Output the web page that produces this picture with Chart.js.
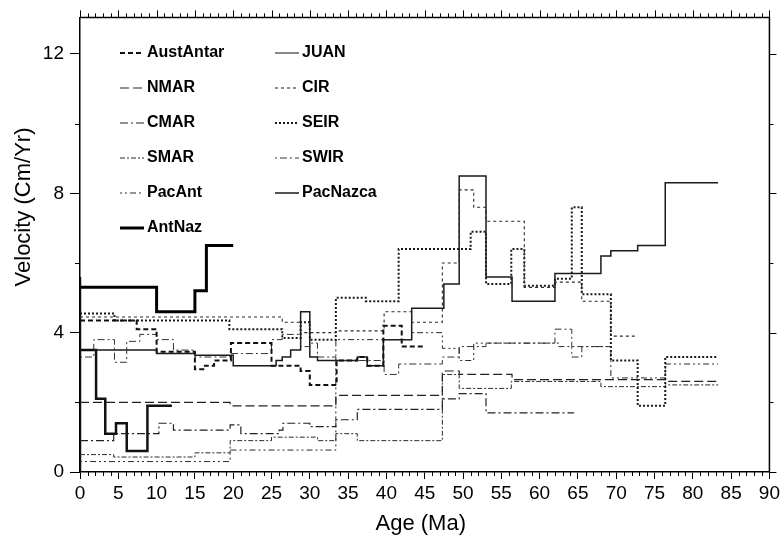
<!DOCTYPE html>
<html>
<head>
<meta charset="utf-8">
<title>Spreading velocity vs age</title>
<script src="https://cdn.jsdelivr.net/npm/chart.js@4.4.1/dist/chart.umd.min.js"></script>
<style>
  html, body { margin: 0; padding: 0; background: #fff; }
  #wrap { width: 783px; height: 541px; }
</style>
</head>
<body>
<div id="wrap"><canvas id="velChart" width="783" height="541"></canvas></div>
<script>
// [age (Ma), velocity (cm/yr)] - each value holds until the next age
var austAntar = [[0,4.35],[7.4,4.1],[10,3.45],[15,2.95],[16.3,3.05],[17.5,3.2],[19.7,3.7],[25,3.05],[28.8,2.9],[30,2.5],[33.5,3.2],[36.2,3.3],[37.5,3.05],[39.6,4.2],[42,3.6],[45,3.6]];
var nmar = [[0,2.0],[19.6,1.9],[33.4,2.2],[47.3,2.9],[49.5,2.8],[56.4,2.65],[68,2.65],[76.4,2.6],[83.3,2.6]];
var cmar = [[0,0.9],[4.4,1.1],[10.3,1.4],[12.2,1.2],[19.6,1.35],[21,1.1],[26,1.2],[26.5,1.4],[30,1.3],[33.4,1.5],[36.2,1.8],[47.3,2.1],[49.5,2.25],[53,1.7],[64.5,1.7]];
var smar = [[0,0.5],[4.4,0.43],[15,0.55],[19.6,0.9],[25,1.0],[31,0.9],[33.4,1.1],[36.2,0.9],[47.3,2.8],[49.5,2.4],[56.3,2.6],[68,2.45],[76.4,2.5],[83.3,2.5]];
var pacAnt = [[0,0.3],[19.6,0.63],[33.4,3.8],[39.7,3.8],[43.3,4.0],[47.3,3.55],[49.5,3.2],[51.4,3.7],[62.5,3.6],[69.3,2.7],[76.4,3.1],[83.3,3.1]];
var antNaz = [[0,5.3],[10,4.6],[15,5.2],[16.5,6.5],[20,6.5]];
var juan = [[0,0],[0,5.6],[0,3.5],[2.1,2.1],[3.3,1.1],[4.7,1.4],[6.1,0.6],[8.8,1.9],[12,1.9]];
var cir = [[0,4.45],[26.4,4.3],[28.8,4.0],[33.4,4.05],[39.7,4.6],[43.3,4.3],[47.3,6.0],[49.5,8.1],[51.4,7.6],[53,7.2],[58,5.3],[62,5.45],[65.5,4.9],[69.3,3.9],[72.6,3.9]];
var seir = [[0,4.55],[4.5,4.35],[19.5,4.1],[26.4,3.85],[28.8,4.3],[30,3.8],[33.4,5.0],[37.3,4.9],[41.6,6.4],[51,6.9],[53,5.4],[56.3,6.4],[58,5.35],[62,5.55],[64.2,7.6],[65.5,5.1],[69.3,3.2],[72.8,1.9],[76.4,3.3],[83.3,3.3]];
var swir = [[0,3.3],[1.8,3.8],[4.5,3.15],[6.1,3.75],[7.8,3.95],[10,3.8],[12.2,3.5],[15,3.3],[19.6,3.4],[25,3.8],[26.4,3.95],[28.8,3.6],[30,3.7],[31,3.3],[33.4,3.2],[39.7,2.8],[41.6,3.1],[47.3,3.3],[49.5,3.6],[53,3.7],[62,4.1],[64.2,3.3],[65.5,3.6],[69.3,3.6]];
var pacNazca = [[0,3.5],[10,3.4],[15,3.35],[20,3.05],[25.6,3.2],[26.4,3.3],[27.5,3.5],[28.8,4.6],[30,3.3],[31,3.2],[36.2,3.3],[37.5,3.05],[39.6,3.8],[43.3,4.7],[47.5,5.4],[49.5,8.5],[53,5.6],[56.4,4.9],[62,5.7],[68,6.2],[69.3,6.35],[72.8,6.5],[76.4,8.3],[83.3,8.3]];

var plateNames = ["AustAntar", "NMAR", "CMAR", "SMAR", "PacAnt", "AntNaz", "JUAN", "CIR", "SEIR", "SWIR", "PacNazca"];
var plateData = [austAntar, nmar, cmar, smar, pacAnt, antNaz, juan, cir, seir, swir, pacNazca];

// line look, same order as plateNames
var lineStyles = [
    { dash: [5, 3], width: 2, color: "#111" },
    { dash: [9, 4], width: 1.2, color: "#222" },
    { dash: [8, 3, 2, 3], width: 1.2, color: "#222" },
    { dash: [5, 2, 2, 2], width: 1, color: "#2a2a2a" },
    { dash: [2, 3, 2, 3, 6, 3], width: 1, color: "#2a2a2a" },
    { dash: [], width: 3, color: "#000" },
    { dash: [], width: 2.5, color: "#111", legendWidth: 1 },
    { dash: [3, 3], width: 1.1, color: "#2a2a2a" },
    { dash: [2, 2], width: 2, color: "#1a1a1a" },
    { dash: [2, 3, 7, 3], width: 1, color: "#333" },
    { dash: [], width: 1.5, color: "#1a1a1a" }
];

var datasets = plateNames.map(function (name, i) {
    return {
        label: name,
        data: plateData[i].map(function (p) { return { x: p[0], y: p[1] }; }),
        stepped: true,
        borderColor: lineStyles[i].color,
        borderWidth: lineStyles[i].width,
        borderDash: lineStyles[i].dash,
        pointRadius: 0,
        fill: false
    };
});

// top/right frame, minor ticks and axis titles
var framePlugin = {
    id: "frame",
    afterDraw: function (chart) {
        var c = chart.ctx, a = chart.chartArea;
        var xs = chart.scales.x, ys = chart.scales.y;
        c.save();
        c.strokeStyle = "#000";
        c.lineWidth = 1.5;
        c.beginPath();
        c.moveTo(a.left, a.top);
        c.lineTo(a.right, a.top);
        c.lineTo(a.right, a.bottom);
        c.stroke();

        c.lineWidth = 1;
        c.beginPath();
        for (var m = 0; m <= 90; m++) {
            var px = Math.round(xs.getPixelForValue(m)) + 0.5;
            var len = m % 5 === 0 ? 7 : 4;
            if (m % 5 !== 0) {
                c.moveTo(px, a.bottom);
                c.lineTo(px, a.bottom + 4);
            }
            c.moveTo(px, a.top);
            c.lineTo(px, a.top - len);
        }
        for (var v = 0; v <= 12; v += 2) {
            var py = Math.round(ys.getPixelForValue(v)) + 0.5;
            var l2 = v % 4 === 0 ? 7 : 4;
            c.moveTo(a.right, py);
            c.lineTo(a.right + l2, py);
            if (v % 4 !== 0) {
                c.moveTo(a.left, py);
                c.lineTo(a.left - 5, py);
            }
        }
        c.stroke();

        c.fillStyle = "#000";
        c.font = '22px "Liberation Sans"';
        c.textAlign = "center";
        c.textBaseline = "middle";
        c.fillText("Age (Ma)", (a.left + a.right) / 2 - 4, 524);
        c.translate(24, 207);
        c.rotate(-Math.PI / 2);
        c.fillText("Velocity (Cm/Yr)", 0, 0);
        c.restore();
    }
};

// legend in two columns inside the plot
var legendPlugin = {
    id: "insideLegend",
    afterDraw: function (chart) {
        var c = chart.ctx;
        c.save();
        c.font = 'bold 16px "Liberation Sans"';
        c.textBaseline = "middle";
        c.fillStyle = "#000";
        chart.data.datasets.forEach(function (ds, i) {
            var col = i < 6 ? 0 : 1;
            var row = i < 6 ? i : i - 6;
            var x0 = col ? 275 : 120;
            var y = 53 + row * 35;
            c.strokeStyle = ds.borderColor;
            c.lineWidth = lineStyles[i].legendWidth || ds.borderWidth;
            c.setLineDash(ds.borderDash);
            c.beginPath();
            c.moveTo(x0, y);
            c.lineTo(x0 + 24, y);
            c.stroke();
            c.setLineDash([]);
            c.fillText(ds.label, x0 + 27, y);
        });
        c.restore();
    }
};

var tickFont = { family: "Liberation Sans", size: 19 };

var velChart = new Chart(document.getElementById("velChart"), {
    type: "line",
    data: { datasets: datasets },
    options: {
        responsive: false,
        animation: false,
        layout: { padding: { top: 15, right: 13, left: 0, bottom: 0 } },
        plugins: { legend: { display: false }, tooltip: { enabled: false } },
        scales: {
            x: {
                type: "linear",
                min: 0,
                max: 90,
                ticks: { stepSize: 5, color: "#000", font: tickFont, padding: 3, maxRotation: 0, autoSkip: false },
                grid: { display: true, drawOnChartArea: false, tickLength: 7, color: "#000", tickWidth: 1 },
                border: { color: "#000", width: 1.5 },
                afterFit: function (s) { s.height = 69; }
            },
            y: {
                min: 0,
                max: 13.05,
                ticks: { stepSize: 4, includeBounds: false, color: "#000", font: tickFont, padding: 6 },
                grid: { display: true, drawOnChartArea: false, tickLength: 10, color: "#000", tickWidth: 1 },
                border: { color: "#000", width: 1.5 },
                afterFit: function (s) { s.width = 80; }
            }
        }
    },
    plugins: [framePlugin, legendPlugin]
});
</script>
</body>
</html>
